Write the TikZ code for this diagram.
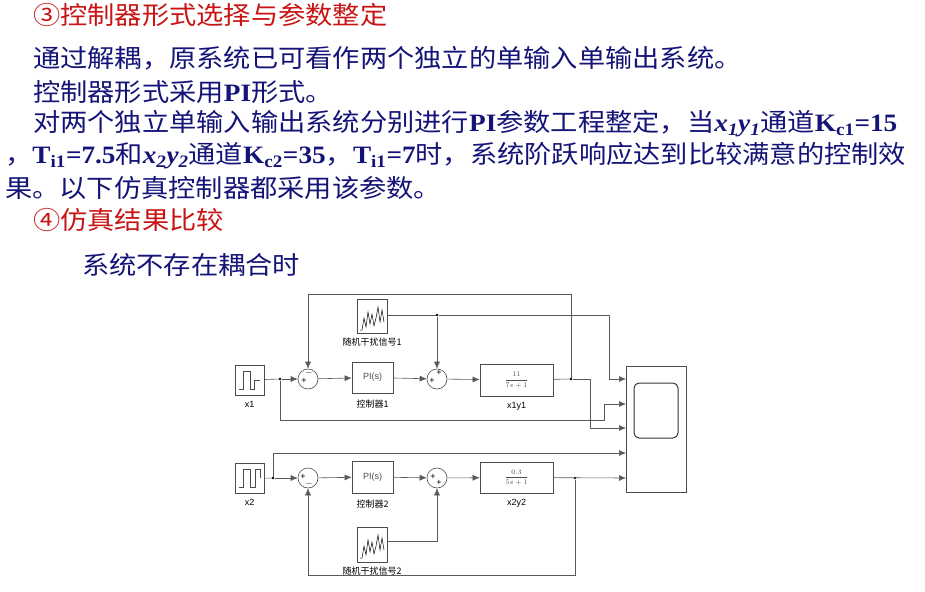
\documentclass[tikz,border=0pt]{standalone}
\usepackage{fontspec}
\setmainfont{Liberation Serif}
\newfontfamily\cjk{Noto Sans CJK SC}
\newfontfamily\labfont{Liberation Sans}
\usetikzlibrary{arrows.meta,positioning}
\definecolor{titlered}{RGB}{200,20,20}
\definecolor{bodyblue}{RGB}{20,20,120}
\newcommand{\xy}[1]{{\rmfamily\bfseries\itshape x\textsubscript{#1}y\textsubscript{#1}}}
\newcommand{\sub}[2]{{\rmfamily\bfseries #1\textsubscript{#2}}}
\newcommand{\wide}[1]{\scalebox{1.09}[1]{#1}}
\tikzset{
  line/.style={draw, gray!70!black, line width=0.6pt},
  sig/.style={line, -{Latex[length=7pt,width=6pt]}, shorten >=0pt},
  blk/.style={draw, gray!60!black, line width=0.7pt, fill=white, inner sep=0pt},
  sumnode/.style={circle, draw, gray!60!black, line width=0.6pt, minimum size=20pt, inner sep=0pt},
  sign/.style={font=\labfont\fontsize{9}{9}\selectfont, text=black, inner sep=0pt},
  lab/.style={font=\cjk\fontsize{9}{9}\selectfont, text=black},
  dot/.style={circle, fill=black, inner sep=0pt, minimum size=2.6pt},
  txt/.style={anchor=west, inner sep=0pt, text=bodyblue, font=\fontsize{25}{25}\selectfont}
}
\begin{document}
\begin{tikzpicture}[x=1pt,y=-1pt]
  \useasboundingbox (0,0) rectangle (925,591);

  % text
  \node [txt, text=titlered] (t1) at (33,15) {\wide{\cjk ③控制器形式选择与参数整定}};
  \node [txt] (t2) at (33,58) {\wide{\cjk 通过解耦，原系统已可看作两个独立的单输入单输出系统。}};
  \node [txt] (t3) at (33,92) {\wide{\cjk 控制器形式采用{\rmfamily\bfseries PI}形式。}};
  \node [txt] (t4) at (33,124) {\wide{\cjk 对两个独立单输入输出系统分别进行{\rmfamily\bfseries PI}参数工程整定，当\xy{1}通道\sub{K}{c1}{\rmfamily\bfseries =15}}};
  \node [txt] (t5) at (5,156) {\wide{\cjk ，\sub{T}{i1}{\rmfamily\bfseries =7.5}和\xy{2}通道\sub{K}{c2}{\rmfamily\bfseries =35}，\sub{T}{i1}{\rmfamily\bfseries =7}时，系统阶跃响应达到比较满意的控制效}};
  \node [txt] (t6) at (5,188) {\wide{\cjk 果。以下仿真控制器都采用该参数。}};
  \node [txt, text=titlered] (t7) at (33,220) {\wide{\cjk ④仿真结果比较}};
  \node [txt] (t8) at (82,265) {\wide{\cjk 系统不存在耦合时}};

  % blocks
  \node [blk, minimum width=29pt, minimum height=30pt] (x1) at (249.5,380) {};
  \draw [gray!60!black] (239,389) -- (243,389) -- (243,371) -- (250,371) -- (250,389) -- (254,389) -- (254,380) -- (260,380);
  \node [lab, font=\labfont\fontsize{9}{9}\selectfont, below=2pt of x1] (x1l) {x1};
  \node [blk, minimum width=29pt, minimum height=30pt] (x2) at (249.5,478.5) {};
  \draw [gray!60!black] (239,487) -- (243,487) -- (243,469) -- (250,469) -- (250,487) -- (255,487) -- (255,469) -- (260,469) -- (260,478);
  \node [lab, font=\labfont\fontsize{9}{9}\selectfont, below=2pt of x2] (x2l) {x2};

  \node [sumnode] (s1) at (308,379) {};
  \node [sign] at (304,381) {+};
  \node [sign] at (309,373) {$-$};
  \node [sumnode] (s2) at (437,379) {};
  \node [sign] at (432,381) {+};
  \node [sign] at (439,373) {+};
  \node [sumnode] (s3) at (308,478) {};
  \node [sign] at (303,477) {+};
  \node [sign] at (309,484) {$-$};
  \node [sumnode] (s4) at (437,478) {};
  \node [sign] at (433,477) {+};
  \node [sign] at (439,483) {+};

  \node [blk, minimum width=41pt, minimum height=31pt, font=\labfont\fontsize{9}{9}\selectfont] (pi1) at (372.5,377.5) {PI(s)};
  \node [lab, below=3pt of pi1] (pi1l) {控制器1};
  \node [blk, minimum width=41pt, minimum height=32pt, font=\labfont\fontsize{9}{9}\selectfont] (pi2) at (372.5,477) {PI(s)};
  \node [lab, below=3pt of pi2] (pi2l) {控制器2};

  \node [blk, minimum width=73pt, minimum height=32pt, font=\fontsize{7}{7}\selectfont] (g1) at (516.5,380) {$\displaystyle\frac{11}{7s+1}$};
  \node [lab, font=\labfont\fontsize{9}{9}\selectfont, below=2pt of g1] (g1l) {x1y1};
  \node [blk, minimum width=73pt, minimum height=31pt, font=\fontsize{7}{7}\selectfont] (g2) at (516.5,477.5) {$\displaystyle\frac{0.3}{5s+1}$};
  \node [lab, font=\labfont\fontsize{9}{9}\selectfont, below=2pt of g2] (g2l) {x2y2};

  \node [blk, minimum width=30pt, minimum height=34pt] (n1) at (372,316) {};
  \draw [black, line width=0.5pt] (360,330) -- (362,330) -- (364,318) -- (366,327) -- (368,312) -- (370,324) -- (372,314) -- (374,326) -- (376,318) -- (378,307) -- (380,322) -- (382,310) -- (384,322);
  \node [lab, below=1pt of n1] (n1l) {随机干扰信号1};
  \node [blk, minimum width=30pt, minimum height=35pt] (n2) at (372,544.5) {};
  \draw [black, line width=0.5pt] (360,558) -- (362,558) -- (364,546) -- (366,555) -- (368,540) -- (370,552) -- (372,542) -- (374,554) -- (376,546) -- (378,535) -- (380,550) -- (382,538) -- (384,550);
  \node [lab, below=1pt of n2] (n2l) {随机干扰信号2};

  \node [blk, minimum width=60pt, minimum height=126pt] (sc) at (656,429) {};
  \node [draw, gray!40!black, line width=1pt, rounded corners=5pt, minimum width=44pt, minimum height=55pt] (scr) at (656,410.5) {};

  % junctions
  \node [dot] (j1) at (280,379) {};
  \node [dot] (j2) at (437,315) {};
  \node [dot] (j3) at (571,379) {};
  \node [dot] (j4) at (273,478) {};
  \node [dot] (j5) at (575,478) {};
  \coordinate (in1) at (626,379);
  \coordinate (in2) at (626,404);
  \coordinate (in3) at (626,428);
  \coordinate (in4) at (626,453);
  \coordinate (in5) at (626,478);

  % upper loop
  \draw [line] (x1) -- (j1);
  \draw [sig] (j1) -- (s1);
  \draw [sig] (s1) -- (pi1);
  \draw [sig] (pi1) -- (s2);
  \draw [sig] (s2) -- (g1);
  \draw [line] (g1) -- (j3);
  \draw [sig] (j3) |- (308,294) -- (s1);
  \draw [line] (n1.east |- j2) -- (j2);
  \draw [sig] (j2) -- (s2);
  \draw [sig] (j2) -| (609,379) -- (in1);
  \draw [sig] (j3) -| (590,428) -- (in3);
  \draw [sig] (j1) |- (604,420) |- (in2);

  % lower loop
  \draw [line] (x2) -- (j4);
  \draw [sig] (j4) -- (s3);
  \draw [sig] (s3) -- (pi2);
  \draw [sig] (pi2) -- (s4);
  \draw [sig] (s4) -- (g2);
  \draw [sig] (g2) -- (in5);
  \draw [sig] (j4) |- (in4);
  \draw [sig] (j5) |- (308,575) -- (s3);
  \draw [sig] (n2.east |- 0,541) -| (s4);
\end{tikzpicture}
\end{document}
